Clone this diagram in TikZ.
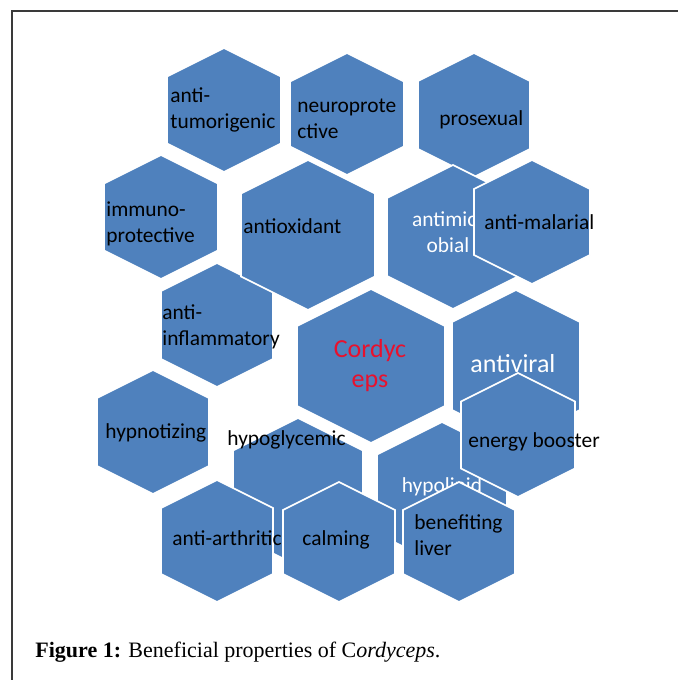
\documentclass[tikz,border=0pt]{standalone}
\usepackage{fontspec}
\setmainfont{Liberation Serif}
\newfontfamily\hexfont{Carlito}
\definecolor{hexblue}{HTML}{4F81BD}
\definecolor{cordred}{HTML}{E8112D}
\definecolor{frame}{HTML}{3A3A3A}
\newcommand\hexa[5]{\fill[hexblue,draw=white,line width=0.8pt] (#2,#3) coordinate (#1) +(0,-#5) -- +(#4,{-#5+#4/2}) -- +(#4,{#5-#4/2}) -- +(0,#5) -- +(-#4,{#5-#4/2}) -- +(-#4,{-#5+#4/2}) -- cycle;}

\begin{document}
\begin{tikzpicture}[x=0.5pt,y=-0.5pt,lbl/.style={font=\hexfont\fontsize{10.7}{13}\selectfont,inner sep=0pt,align=left,anchor=base west},big/.style={font=\hexfont\fontsize{13}{15}\selectfont}]
\useasboundingbox (0,0) rectangle (678,680);
\draw[frame,line width=1pt] (678,11) -- (12,11) -- (12,680);
\hexa{tum}{224}{110}{57}{62}\node[lbl] (tumtxt) at (170,128) {anti-\\tumorigenic};
\hexa{neuro}{347}{114}{57}{61}\node[lbl] (neurotxt) at (297,138) {neuroprote\\ctive};
\hexa{prosex}{474}{115}{56}{62}\node[lbl] (prosextxt) at (439,125) {prosexual};
\hexa{immuno}{161}{217}{57}{62}\node[lbl] (immunotxt) at (106,242) {immuno-\\protective};
\hexa{infl}{217}{325}{56}{62}\node[lbl] (infltxt) at (162,345) {anti-\\inflammatory};
\hexa{antiox}{308}{235}{67}{75}\node[lbl] (antioxtxt) at (243,233) {antioxidant};
\hexa{microb}{453}{237}{66}{72}\node[lbl,align=center,anchor=base,white] (microbtxt) at (448,252) {antimicr\\obial};
\hexa{malar}{532}{222}{58}{62}\node[lbl] (malartxt) at (484,229) {anti-malarial};
\hexa{cordy}{371}{366}{74}{77}\node[lbl,big,align=center,anchor=base,cordred] (cordytxt) at (370,387) {Cordyc\\eps};
\hexa{viral}{516}{366}{64}{76}\node[lbl,big,white] (viraltxt) at (470,372) {antiviral};
\hexa{hypno}{153}{432}{56}{62}\node[lbl] (hypnotxt) at (105,438) {hypnotizing};
\hexa{glyc}{298}{492}{65}{74}\node[lbl] (glyctxt) at (227,445) {hypoglycemic};
\hexa{lipid}{442}{494}{65}{72}\node[lbl,anchor=base,white] (lipidtxt) at (442,492) {hypolipid};
\hexa{energy}{518}{435}{57}{62}\node[lbl] (energytxt) at (468,447) {energy booster};
\hexa{arthr}{217}{541}{56}{61}\node[lbl] (arthrtxt) at (172,545) {anti-arthritic};
\hexa{calm}{339}{542}{56}{60}\node[lbl] (calmtxt) at (302,545) {calming};
\hexa{liver}{459}{542}{56}{60}\node[lbl] (livertxt) at (414,555) {benefiting\\liver};
\node[anchor=base west,inner sep=0pt,font=\fontsize{11}{13}\selectfont] (caption) at (35,657) {\textbf{Figure 1:} Beneficial properties of C\textit{ordyceps}.};
\end{tikzpicture}
\end{document}
